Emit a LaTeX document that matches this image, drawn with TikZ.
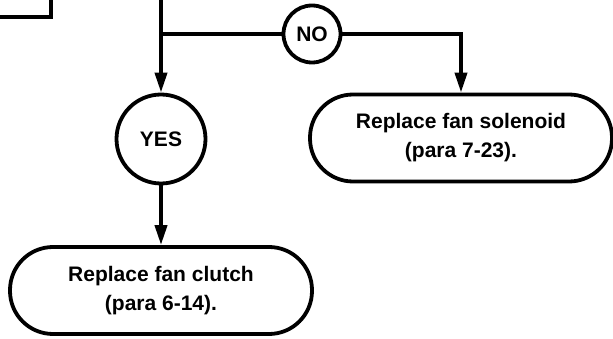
\documentclass[tikz,border=0pt]{standalone}
\usepackage{fontspec}
\setmainfont{Liberation Sans}
\usetikzlibrary{arrows.meta,positioning,calc}

\begin{document}
\begin{tikzpicture}[
  x=1pt, y=-1pt,
  line width=3.8pt,
  every node/.style={font=\fontsize{21}{29}\selectfont\bfseries},
  terminal/.style={draw, minimum width=302pt, minimum height=87pt, rounded corners=43pt, align=center, inner sep=0pt},
  answer/.style={draw, circle, inner sep=0pt},
  flow/.style={-{Triangle[length=20pt,width=12pt]}},
]
\useasboundingbox (0,0) rectangle (613,339);
\clip (0,0) rectangle (613,339);

\node[draw, minimum width=150pt, minimum height=80pt, anchor=south east] (prev) at (53,19) {};
\coordinate (top) at (161,-40);
\coordinate (split) at (161,34);

\node[answer, minimum size=57pt] (no) at (312,34) {NO};
\node[answer, minimum size=89pt] (yes) at (161,139) {YES};
\node[terminal] (solenoid) at (461,138) {Replace fan solenoid\\(para 7-23).};
\node[terminal] (clutch) at (161,290.5) {Replace fan clutch\\(para 6-14).};

\draw[flow] (top) -- (yes);
\draw (split) -- (no);
\draw[flow] (no) -| (solenoid);
\draw[flow] (yes) -- (clutch);

\end{tikzpicture}
\end{document}
